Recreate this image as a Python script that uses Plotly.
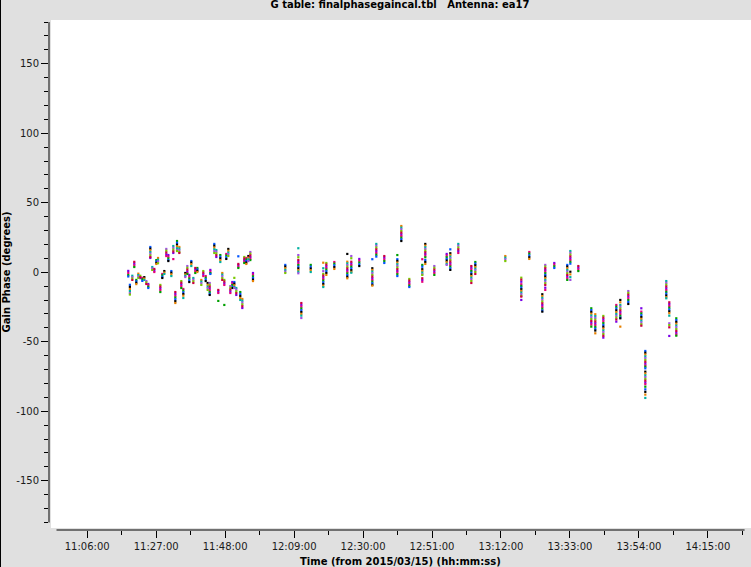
import plotly.graph_objects as go

DAY = "2015-03-15"

scan_times = [
    "11:18:30", "11:19:00", "11:19:44", "11:20:20", "11:20:57", "11:21:34", "11:22:10", "11:22:47",
    "11:23:23", "11:24:00", "11:24:36", "11:25:13", "11:25:49", "11:26:26", "11:27:03", "11:27:34",
    "11:28:16", "11:28:52", "11:29:29", "11:30:05", "11:30:42", "11:31:37", "11:32:13", "11:32:50",
    "11:33:21", "11:34:03", "11:34:39", "11:35:16", "11:35:52", "11:36:29", "11:37:05", "11:37:42",
    "11:38:19", "11:38:55", "11:39:32", "11:40:45", "11:41:21", "11:42:05", "11:42:41", "11:43:18",
    "11:43:30", "11:44:42", "11:45:19", "11:45:55", "11:46:32", "11:47:08", "11:47:45", "11:48:21",
    "11:48:58", "11:49:35", "11:50:11", "11:50:48", "11:51:24", "11:52:01", "11:52:37", "11:53:14",
    "11:53:50", "11:54:27", "11:55:04", "11:55:40", "11:56:29",
    "12:06:19", "12:10:17", "12:11:12", "12:14:04", "12:17:53", "12:18:49", "12:21:15", "12:25:12",
    "12:26:25", "12:28:51", "12:32:49", "12:34:02", "12:36:28", "12:40:26",
    "12:41:39", "12:44:05", "12:48:02", "12:48:57", "12:51:42", "12:55:28", "12:56:34", "12:59:00",
    "13:02:58", "13:04:11", "13:13:19", "13:18:11",
    "13:20:37", "13:24:35", "13:25:29", "13:28:14", "13:32:11", "13:33:07", "13:35:33", "13:39:30",
    "13:40:43", "13:43:10", "13:47:07", "13:48:20", "13:50:46",
    "13:54:44", "13:55:57", "14:02:20", "14:03:15", "14:05:23",
]

scan_phases = [
    [1.0, -0.5, -2.0, -3.0],
    [-9.0, -10.5, -12.0, -13.5, -15.0, -16.0],
    [-2.5, -3.5, -4.5, -5.5],
    [7.5, 6.2, 5.0, 3.8],
    [-5.5, -6.5, -7.5, -8.5],
    [-1.0, -2.0, -3.0, -4.0],
    [-2.5, -3.5, -4.2],
    [-4.0, -5.0, -6.2],
    [-3.5, -4.5, -5.5],
    [-6.3, -7.3, -8.4],
    [-8.4, -9.4, -10.4, -11.3],
    [18.2, 17.0, 15.8, 14.6, 13.4, 12.2, 11.0, 10.3],
    [3.8, 2.8, 1.7],
    [2.4, 1.3, 0.2],
    [8.8, 7.8, 6.8, 6.0],
    [10.3, 9.0, 7.8, 6.5],
    [-9.1, -10.3, -11.5, -12.8, -14.2],
    [-1.2, -2.2, -3.2, -4.1],
    [0.9, -0.2, -1.2],
    [16.8, 15.5, 14.2, 12.9, 11.7],
    [12.4, 11.2, 10.0, 8.8, 8.1],
    [0.9, -0.3, -1.5, -2.7],
    [18.9, 17.6, 16.3, 15.0, 13.9, 9.5],
    [-14.2, -15.5, -16.8, -18.1, -19.4, -20.8, -22.1],
    [22.5, 21.2, 19.9, 18.6, 17.3, 16.0, 15.3],
    [18.2, 17.0, 15.8, 14.6, 13.9],
    [-6.3, -7.5, -8.7, -10.0, -11.3],
    [-12.0, -13.2, -14.4, -15.6, -16.8, -18.5],
    [-0.5, -1.5, -2.5, -3.4],
    [4.5, 3.2, 1.9, 0.6, -0.6, -1.2],
    [-1.9, -3.2, -4.5, -5.8, -7.0],
    [8.1, 7.0, 5.8, 4.5],
    [-4.1, -5.3, -6.5, -7.7],
    [3.1, 1.9, 0.7, -0.5],
    [3.1, 2.1, 1.1, 0.2],
    [-5.5, -6.7, -7.9, -9.1],
    [0.9, -0.3, -1.5, -2.7],
    [-2.7, -3.9, -5.1, -6.3],
    [-7.7, -9.0, -10.3, -11.5, -12.7],
    [-7.7, -9.0, -10.3, -11.6, -12.9, -14.2, -15.4, -16.3],
    [1.7, 0.5, -0.6, -1.2],
    [20.4, 19.1, 17.8, 16.5, 15.2, 13.9],
    [16.0, 14.8, 13.6, 12.3, 11.0],
    [-12.7, -13.8, -14.9, -20.6],
    [12.4, 11.2, 10.0, 8.7, 7.4],
    [-0.5, -1.7, -2.9, -4.2, -5.5],
    [-5.5, -6.7, -7.9, -9.1, -23.5],
    [13.2, 12.0, 10.8, 9.6],
    [16.8, 15.5, 14.2, 13.0, 11.7],
    [-9.9, -11.1, -12.4, -13.7, -14.9],
    [-7.0, -8.1, -9.2, -10.3, -11.3],
    [-7.0, -8.2, -9.4, -10.6, -11.3, -4.0],
    [-11.3, -12.5, -13.7, -15.0, -16.3],
    [6.0, 5.0, 4.0, 3.1, 11.5],
    [-14.2, -15.6, -17.0, -18.5, -19.9],
    [-19.2, -20.5, -21.8, -23.1, -24.4, -25.7],
    [11.0, 9.9, 8.8, 7.7, 6.7],
    [10.3, 9.2, 8.1, 7.0, 6.0],
    [11.7, 10.5, 9.3, 8.1],
    [14.6, 13.4, 12.2, 11.0, 9.8, 8.8],
    [-0.5, -1.7, -2.9, -4.1, -5.3, -6.3],
    [5.3, 4.1, 2.9, 1.7, 0.5, -0.5],
    [17.3, 12.4, 10.8, 8.8, 7.6, 6.4, 5.2, 4.0, 2.8, 1.6, 0.4, -0.7],
    [-22.1, -23.4, -24.7, -26.0, -27.3, -28.6, -29.9, -31.2, -32.9],
    [5.3, 4.0, 2.7, 1.4, 0.2],
    [6.9, 2.9, 0.8, -1.2, -2.4, -3.6, -4.8, -6.0, -7.2, -8.4, -9.6, -10.6],
    [6.7, 5.5, 4.3, 3.1, 1.9, 0.7, -0.5, -1.9],
    [7.4, 6.2, 5.0, 3.7, 2.4],
    [13.2, 7.6, 6.4, 5.2, 4.0, 2.8, 1.6, 0.4, -0.8, -2.0, -3.2, -4.3],
    [11.7, 10.1, 7.6, 6.4, 5.2, 4.0, 2.8, 1.5, 0.3, -0.3],
    [9.6, 8.3, 7.0, 5.7, 4.5],
    [9.4, 2.9, 1.7, 0.5, -0.7, -1.9, -3.1, -4.3, -5.5, -6.7, -7.9, -9.0, -9.6],
    [20.4, 19.1, 17.8, 16.5, 15.2, 13.9, 12.6, 11.3],
    [11.7, 10.5, 9.2, 8.0, 6.7],
    [12.4, 9.4, 8.2, 7.0, 5.8, 4.6, 3.4, 2.2, 1.0, -0.2, -1.4, -2.7],
    [33.3, 32.1, 30.9, 29.7, 28.5, 27.3, 26.1, 24.9, 23.7, 22.5],
    [-4.8, -6.0, -7.2, -8.4, -9.6, -10.6],
    [9.4, 5.3, 4.0, 2.2, 1.0, -0.2, -1.4, -1.9, -4.3, -5.5, -6.8],
    [20.4, 19.2, 18.0, 16.8, 15.6, 14.4, 13.2, 12.0, 10.8, 8.8, 7.4, 6.0],
    [4.5, 3.2, 1.9, 0.6, -0.6, -1.9],
    [13.2, 12.0, 10.8, 9.6, 8.4, 7.2, 6.0, 5.3],
    [16.5, 13.7, 12.5, 11.3, 10.1, 8.9, 7.7, 6.5, 5.3, 4.1, 2.9, 1.7],
    [20.4, 19.1, 17.8, 16.5, 15.2, 13.9],
    [4.5, 3.3, 2.1, 0.9, -0.3, -1.5, -2.7, -3.9, -5.1, -6.3, -7.7],
    [7.4, 6.2, 5.0, 3.8, 2.6, 1.4, 0.2, -1.2],
    [11.7, 10.5, 9.3, 8.1],
    [-3.9, -5.3, -6.8, -8.6, -9.8, -11.0, -12.2, -13.4, -14.6, -15.8, -17.0, -17.5, -19.9],
    [14.6, 13.4, 12.1, 10.8, 9.6],
    [-15.8, -17.1, -18.4, -19.7, -21.0, -22.3, -23.6, -24.9, -26.2, -27.5, -28.3],
    [5.3, 4.1, 2.9, 1.7, 0.5, -0.7, -1.9, -3.1, -4.3, -5.5, -6.7, -7.9, -9.1, -11.1, -12.7],
    [6.7, 5.5, 4.3, 3.1],
    [5.3, 4.1, 2.9, 1.7, 0.5, -0.7, -1.9, -3.1, -4.3, -5.5],
    [15.3, 14.0, 12.7, 11.4, 10.1, 8.8, 7.5, 6.2, 0.4, -1.5, -3.5, -5.5],
    [4.5, 3.3, 2.1, 0.9],
    [-25.9, -27.2, -28.5, -29.8, -31.1, -32.4, -33.7, -35.0, -36.3, -37.6, -39.1],
    [-30.2, -31.5, -32.8, -34.1, -35.4, -36.7, -38.0, -39.3, -40.6, -41.9, -43.9],
    [-31.4, -32.7, -34.0, -35.3, -36.6, -37.9, -39.2, -40.5, -41.8, -43.1, -44.4, -45.7, -47.0],
    [-23.5, -24.8, -26.1, -27.4, -28.7, -30.0, -31.3, -32.6, -33.9, -35.5],
    [-19.9, -21.6, -23.5, -24.8, -26.1, -27.4, -28.7, -30.0, -31.3, -32.6, -33.1, -39.1],
    [-13.5, -14.8, -16.1, -17.4, -18.7, -20.0, -21.3, -22.8],
    [-25.9, -28.3, -29.6, -30.9, -32.2, -33.5, -34.8, -36.1, -37.4, -38.4],
    [-56.6, -57.9, -59.2, -60.5, -61.8, -63.1, -64.4, -65.7, -67.0, -67.9, -69.1, -71.5, -72.8,
     -74.1, -75.4, -76.7, -78.0, -79.3, -80.5, -82.3, -84.2, -86.0, -88.0, -90.4],
    [-6.3, -7.6, -8.9, -10.2, -11.5, -12.8, -14.1, -15.4, -16.7, -18.0, -18.7],
    [-21.6, -22.9, -24.2, -25.5, -26.8, -28.1, -29.4, -31.2, -36.7, -38.0, -39.6, -45.8],
    [-33.1, -34.4, -35.7, -37.0, -38.3, -39.6, -40.9, -42.2, -43.5, -44.8, -45.6],
]

palette = ["#7a00e6", "#e6007a", "#00a000", "#0055ff", "#000000",
           "#e68000", "#00b0a0", "#a050e0", "#7ac800", "#cc0040"]

minor_tick_times = ["11:16:30", "11:37:30", "11:58:30", "12:19:30", "12:40:30",
                    "13:01:30", "13:22:30", "13:43:30", "14:04:30", "14:25:30"]

y_tick_values = [-150, -100, -50, 0, 50, 100, 150]
y_tick_labels = ["-150", "-100", "-50", "0", "50", "100", "150"]

title_text = "G table: finalphasegaincal.tbl\u00a0\u00a0\u00a0Antenna: ea17"
x_title = "Time (from 2015/03/15) (hh:mm:ss)"
y_title = "Gain Phase (degrees)"

BG = "#e0e0e0"
FONT = "DejaVu Sans"

xs = [[] for _ in palette]
ys = [[] for _ in palette]
for s, (t, vals) in enumerate(zip(scan_times, scan_phases)):
    for i, v in enumerate(vals):
        k = (i + 3 * s) % len(palette)
        xs[k].append(f"{DAY} {t}")
        ys[k].append(v)

fig = go.Figure()
for k, c in enumerate(palette):
    fig.add_trace(go.Scatter(
        x=xs[k], y=ys[k], mode="markers",
        marker=dict(symbol="square", size=2.2, color=c, line=dict(width=0)),
        showlegend=False, hoverinfo="skip",
    ))

W, H = 751, 567
ML, MR, MT, MB = 49, 0, 20, 37
PW, PH = W - ML - MR, H - MT - MB

def px_x(p):
    return (p - ML) / PW

def px_y(p):
    return (H - MB - p) / PH

fig.update_layout(
    template="none",
    width=W, height=H, autosize=False,
    margin=dict(l=ML, r=MR, t=MT, b=MB, pad=0, autoexpand=False),
    paper_bgcolor=BG, plot_bgcolor=BG,
    font=dict(family=FONT, size=10, color="#1a1a1a"),
    title=dict(text=f"<b>{title_text}</b>", x=0.5, xref="paper", xanchor="center",
               y=1, yref="container", yanchor="top", pad=dict(t=1, b=0, l=0, r=0),
               automargin=False,
               font=dict(family=FONT, size=10, color="#000000")),
    xaxis=dict(
        type="date", automargin=False,
        range=[f"{DAY} 10:54:22", f"{DAY} 14:28:08"],
        tick0=f"{DAY} 11:06:00", dtick=21 * 60 * 1000,
        tickformat="%H:%M:%S",
        ticks="outside", ticklen=7, tickwidth=1, tickcolor="#000000",
        minor=dict(tickvals=[f"{DAY} {t}" for t in minor_tick_times],
                   ticks="outside", ticklen=4, tickwidth=1, tickcolor="#000000"),
        showgrid=False, zeroline=False, showline=False,
        tickfont=dict(family=FONT, size=10, color="#1a1a1a"),
    ),
    yaxis=dict(
        automargin=False,
        range=[-185.4, 181.5],
        tickmode="array", tickvals=y_tick_values, ticktext=y_tick_labels,
        ticks="outside", ticklen=7, tickwidth=1, tickcolor="#000000",
        minor=dict(tick0=0, dtick=10, ticks="outside", ticklen=4, tickwidth=1, tickcolor="#000000"),
        showgrid=False, zeroline=False, showline=False,
        tickfont=dict(family=FONT, size=10, color="#1a1a1a"),
    ),
    shapes=[
        dict(type="rect", xref="paper", yref="paper", layer="below",
             x0=px_x(51), x1=1.0, y0=px_y(528), y1=1.0,
             fillcolor="#ffffff", line=dict(width=0)),
        dict(type="line", xref="paper", yref="y", x0=0, x1=0, y0=-180, y1=180,
             line=dict(color="#000000", width=1)),
        dict(type="line", xref="x", yref="paper", x0=f"{DAY} 10:56:39", x1=f"{DAY} 14:26:11",
             y0=0, y1=0, line=dict(color="#000000", width=1)),
        dict(type="line", xref="paper", yref="paper", x0=px_x(0.5), x1=px_x(0.5),
             y0=px_y(H), y1=px_y(0), line=dict(color="#000000", width=1)),
    ],
    annotations=[
        dict(text=f"<b>{y_title}</b>", xref="paper", yref="paper",
             x=px_x(6), y=px_y(272.5), xanchor="center", yanchor="middle",
             textangle=-90, showarrow=False,
             font=dict(family=FONT, size=10, color="#000000")),
        dict(text=f"<b>{x_title}</b>", xref="paper", yref="paper",
             x=px_x(400.5), y=px_y(561), xanchor="center", yanchor="middle",
             showarrow=False, font=dict(family=FONT, size=10, color="#000000")),
    ],
)

fig.write_html(
    "out.html",
    config={"displayModeBar": False},
    post_script="document.body.style.margin='0px';document.body.style.padding='0px';"
                "document.body.style.overflow='hidden';",
)
